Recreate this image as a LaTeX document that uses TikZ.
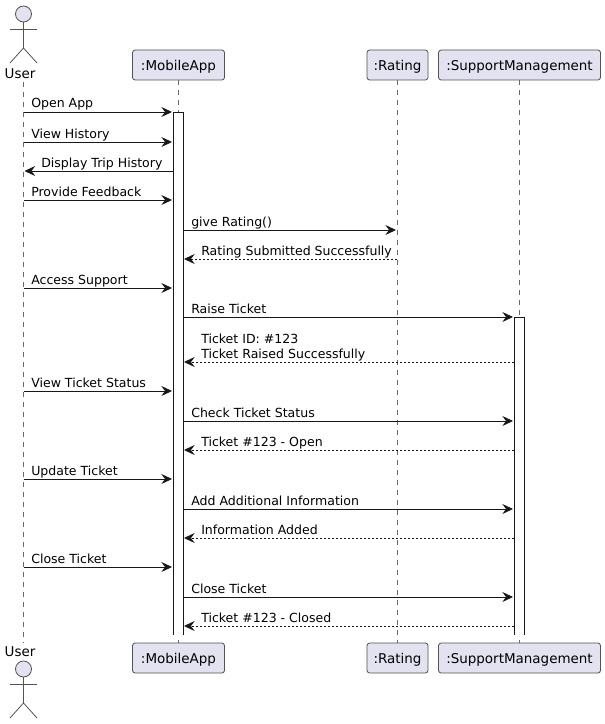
\documentclass[tikz,border=0pt]{standalone}
\usepackage{fontspec}
\setmainfont{DejaVu Sans}
\usetikzlibrary{arrows.meta,positioning}
\definecolor{sfill}{HTML}{E2E2F0}
\definecolor{sline}{HTML}{181818}
\tikzset{
  >={Stealth[length=8pt, width=7.5pt, inset=2.8pt]},
  sbox/.style={rounded corners=2pt, draw=sline!75, fill=sfill, line width=0.6pt,
               minimum height=22.5pt, inner sep=0pt, text height=9pt, text depth=0.9pt,
               font=\fontsize{10.1}{12}\selectfont},
  slife/.style={sline!65, dash pattern=on 3.75pt off 3.75pt, line width=0.45pt},
  sactor/.style={draw=sline!75, line width=0.6pt},
  shead/.style={sactor, fill=sfill},
  sbar/.style={draw=sline, line width=0.7pt},
  smsg/.style={->, sline, line width=0.7pt},
  sreply/.style={->, sline, line width=0.7pt, dash pattern=on 1.5pt off 1.5pt},
  slbl/.style={anchor=base west, inner sep=0pt, font=\fontsize{9.4}{11.2}\selectfont},
  sname/.style={inner sep=0pt, font=\fontsize{10.1}{12}\selectfont},
}
\begin{document}
\begin{tikzpicture}[x=0.75pt,y=-0.75pt]
  \useasboundingbox (0,0) rectangle (605,724);

  % participants
  \node[sname] (userTop) at (20,74) {User};
  \node[sname] (userBot) at (20,652) {User};
  \node[sbox, minimum width=69pt] (appTop) at (178.5,65) {:MobileApp};
  \node[sbox, minimum width=69pt] (appBot) at (178.5,658) {:MobileApp};
  \node[sbox, minimum width=45.75pt] (rateTop) at (397.5,65) {:Rating};
  \node[sbox, minimum width=45.75pt] (rateBot) at (397.5,658) {:Rating};
  \node[sbox, minimum width=121.5pt] (suppTop) at (519.5,65) {:SupportManagement};
  \node[sbox, minimum width=121.5pt] (suppBot) at (519.5,658) {:SupportManagement};

  % lifelines
  \coordinate (userA) at (23.5,82);
  \coordinate (userB) at (23.5,643);
  \draw[slife] (userA) -- (userB);
  \draw[slife] (appTop) -- (appBot);
  \draw[slife] (rateTop) -- (rateBot);
  \draw[slife] (suppTop) -- (suppBot);

  % actors
  \foreach \ay/\an in {0/top,655/bot} {
    \draw[shead] (23.5,14+\ay) circle (8);
    \draw[sactor] (23.5,22+\ay) -- (23.5,48+\ay);
    \draw[sactor] (10,29+\ay) -- (37,29+\ay);
    \draw[sactor] (10,63+\ay) -- (23.5,48+\ay) -- (37,63+\ay);
  }

  % activations (no closing line at the bottom)
  \fill[white] (173,112) rectangle (183.5,635);
  \draw[sbar] (173,635) -- (173,112) -- (183.5,112) -- (183.5,635);
  \fill[white] (514,317) rectangle (524.5,635);
  \draw[sbar] (514,635) -- (514,317) -- (524.5,317) -- (524.5,635);

  % calls
  \foreach \my/\mx/\mz/\mt/\mtxt in {
      112/23.5/172/31/Open App,
      142/23.5/172/31/View History,
      200/23.5/172/31/Provide Feedback,
      230/184/396/191/give Rating(),
      288/23.5/172/31/Access Support,
      317/184/513/191/Raise Ticket,
      391/23.5/172/31/View Ticket Status,
      421/184/513/191/Check Ticket Status,
      479/23.5/172/31/Update Ticket,
      509/184/513/191/Add Additional Information,
      567/23.5/172/31/Close Ticket,
      597/184/513/191/Close Ticket} {
    \coordinate (a\my) at (\mx,\my);
    \coordinate (b\my) at (\mz,\my);
    \draw[smsg] (a\my) -- (b\my);
    \node[slbl] (t\my) at (\mt,\my-4) {\mtxt};
  }

  % replies
  \coordinate (a171) at (172.5,171);
  \coordinate (b171) at (24.5,171);
  \draw[smsg] (a171) -- (b171);
  \node[slbl] (t171) at (41,171-4) {Display Trip History};
  \foreach \my/\mx/\mtxt in {
      259/396.5/Rating Submitted Successfully,
      450/513.5/Ticket \#123 - Open,
      538/513.5/Information Added,
      626/513.5/Ticket \#123 - Closed} {
    \coordinate (a\my) at (\mx,\my);
    \coordinate (b\my) at (184,\my);
    \draw[sreply] (a\my) -- (b\my);
    \node[slbl] (t\my) at (201,\my-4) {\mtxt};
  }
  \coordinate (a362) at (513.5,362);
  \coordinate (b362) at (184,362);
  \draw[sreply] (a362) -- (b362);
  \node[slbl, align=left, anchor=south west] (t362) at (201,361) {Ticket ID: \#123\\Ticket Raised Successfully};

\end{tikzpicture}
\end{document}
